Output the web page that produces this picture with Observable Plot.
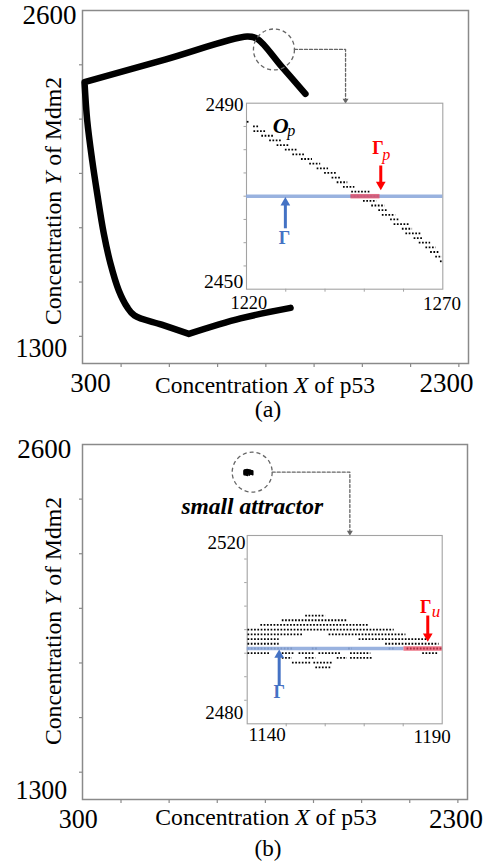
<!DOCTYPE html>
<html>
<head>
<meta charset="utf-8">
<script src="https://cdn.jsdelivr.net/npm/d3@7"></script>
<script src="https://cdn.jsdelivr.net/npm/@observablehq/plot@0.6"></script>
<style>
  body { margin: 0; background: #fff; }
  #root { position: relative; width: 484px; height: 862px; overflow: hidden; background: #fff;
          font-family: "Liberation Serif", "Times New Roman", Times, serif; color: #000; }
  .lbl { position: absolute; white-space: nowrap; line-height: 1; }
</style>
</head>
<body>
<div id="root"></div>
<script>
// ---------------- DATA ----------------
// main panels
const mainXDomain = [300, 2300];
const mainYDomain = [1300, 2600];
const mainXTicks = [500, 750, 1000, 1250, 1500, 1750, 2000, 2250];
const mainYTicks = [1400, 1600, 1800, 2000, 2200, 2400];

// (a) limit cycle trajectory (p53 X, Mdm2 Y); corner points listed twice
const cycleX = [1378, 1119, 851, 851, 710, 569.4, 531.6, 488, 445, 410.4, 376.2, 350.3, 324.4, 310.4, 310.4, 732, 1153, 1205, 1330, 1455];
const cycleY = [1505, 1466, 1409, 1409, 1443, 1476.8, 1507.4, 1568.9, 1667.8, 1778.3, 1925.6, 2048, 2195, 2336, 2336, 2420, 2504, 2496, 2395, 2293];

// (a) zoom marker + connector (main-panel data units)
const zoomA = [{x: 1292, y: 2456.5}];
const connAX = [1398, 1663, 1663];
const connAY = [2456.5, 2456.5, 2269];

// (a) inset: O_p dotted band (one dotted row per Mdm2 level)
const insetAXDomain = [1220, 1270];
const insetAYDomain = [2450, 2490];
const insetAXTicks = [1230, 1240, 1250, 1260];
const insetAYTicks = [2455, 2460, 2465, 2470, 2475, 2480, 2485];
const opRowY  = [2486, 2485, 2484, 2483, 2482, 2481, 2480, 2479, 2478, 2477, 2476, 2475, 2474, 2473, 2472, 2471, 2470, 2469, 2468, 2467, 2466, 2465, 2464, 2463, 2462, 2461, 2460, 2459, 2458, 2457, 2456];
const opRowX1 = [1220.2, 1221.8, 1221.9, 1223.9, 1225.9, 1227.8, 1229.9, 1231.8, 1234.0, 1236.1, 1238.0, 1239.9, 1241.8, 1243.1, 1244.7, 1246.8, 1246.6, 1249.8, 1251.9, 1253.7, 1254.6, 1256.7, 1257.6, 1259.7, 1260.6, 1262.7, 1264.0, 1265.7, 1266.9, 1268.2, 1269.4];
const opRowX2 = [1221.0, 1223.1, 1225.0, 1227.1, 1229.0, 1231.0, 1233.1, 1235.0, 1236.8, 1238.9, 1240.9, 1242.9, 1244.3, 1245.8, 1247.6, 1251.5, 1254.0, 1253.2, 1255.3, 1256.0, 1258.0, 1258.8, 1261.4, 1262.3, 1264.4, 1265.2, 1266.9, 1268.3, 1269.0, 1269.9, 1270.0];
const gammaA = {y: 2470, x1: 1220, x2: 1270};
const gammaPA = {x1: 1246.6, x2: 1254.0};

// (b) small attractor (dotted rows, shared by main blob and inset)
const attrRowY  = [2503, 2502, 2501, 2500, 2499, 2499, 2498, 2498, 2497, 2497, 2496, 2496, 2496, 2496, 2496, 2495, 2495, 2495, 2495, 2495, 2495, 2494, 2494, 2494, 2494, 2493, 2493, 2492];
const attrRowX1 = [1155.0, 1149.0, 1143.5, 1140.2, 1140.2, 1161.0, 1140.2, 1168.7, 1140.2, 1175.5, 1140.2, 1156.7, 1166.0, 1176.4, 1181.0, 1140.2, 1149.0, 1153.3, 1158.4, 1166.5, 1185.0, 1149.0, 1155.0, 1163.1, 1166.5, 1151.6, 1157.1, 1157.6];
const attrRowX2 = [1160.1, 1165.7, 1171.3, 1177.7, 1154.2, 1180.7, 1148.2, 1186.2, 1148.2, 1189.2, 1152.0, 1158.0, 1167.0, 1178.0, 1190.0, 1146.0, 1152.0, 1157.2, 1164.0, 1171.7, 1189.2, 1151.6, 1157.6, 1165.7, 1172.1, 1156.3, 1161.8, 1161.8];
const zoomB = [{x: 1181.6, y: 2498.6}];
const connBX = [1285.5, 1688.9, 1688.9];
const connBY = [2498.6, 2498.6, 2278];
const attractorLabel = [{x: 1181.6, y: 2373, t: "small attractor"}];
const insetBXDomain = [1140, 1190];
const insetBYDomain = [2480, 2520];
const insetBXTicks = [1150, 1160, 1170, 1180];
const insetBYTicks = [2485, 2490, 2495, 2500, 2505, 2510, 2515];
const gammaB = {y: 2496, x1: 1140, x2: 1180.2};
const gammaUB = {x1: 1180.2, x2: 1190};

// ---------------- HELPERS ----------------
const serif = '"Liberation Serif", "Times New Roman", Times, serif';
const root = document.getElementById("root");
const frameGray = "#8a8a8a";
const blue = "#4472c4", red = "#ff0000";

const rows = (ys, x1s, x2s) => ys.map((y, i) => ({y, x1: x1s[i], x2: x2s[i]}));
const fmt = d => String(d);

function place(svg, left, top) {
  svg.style.position = "absolute";
  svg.style.left = left + "px";
  svg.style.top = top + "px";
  root.appendChild(svg);
}
// stretch texts horizontally to the widths they have in the reference
function fitTexts(svg, targets) {
  svg.querySelectorAll("text").forEach(t => {
    const key = t.textContent;
    if (!(key in targets)) return;
    const w = t.getBBox().width;
    if (!w) return;
    const s = targets[key] / w;
    if (Math.abs(s - 1) < 0.03) return;
    const tr = t.getAttribute("transform");
    if (tr) t.setAttribute("transform", tr + ` scale(${s},1)`);
    else {
      const x = +t.getAttribute("x") || 0;
      t.setAttribute("transform", `translate(${x},0) scale(${s},1) translate(${-x},0)`);
    }
  });
}
function label(html, cx, cy, size, rotate, targetW) {
  const d = document.createElement("div");
  d.className = "lbl";
  d.innerHTML = html;
  d.style.fontSize = size + "px";
  d.style.left = cx + "px";
  d.style.top = cy + "px";
  root.appendChild(d);
  const w = d.offsetWidth;
  const s = targetW && w ? targetW / w : 1;
  d.style.transform = `translate(-50%, -50%) rotate(${rotate}deg) scaleX(${s})`;
}
function arrowMarks(x, yTail, yHead, color, rot) {
  return [
    Plot.link([{x, y1: yTail, y2: yHead}], {x1: "x", x2: "x", y1: "y1", y2: "y2", stroke: color, strokeWidth: 3}),
    Plot.dot([{x, y: yHead}], {x: "x", y: "y", symbol: "triangle", r: 3.6, fill: color, rotate: rot})
  ];
}
function textMark(x, y, t, size, color, weight, style) {
  return Plot.text([{x, y, t}], {x: "x", y: "y", text: "t", fontSize: size, fill: color,
    fontWeight: weight, fontStyle: style, fontFamily: serif});
}
function mainAxes(cfg) {
  return [
    Plot.frame({stroke: frameGray, strokeWidth: 1.5}),
    Plot.axisX({ticks: mainXTicks, tickSize: 4, tickFormat: () => "", stroke: frameGray, strokeWidth: 1.2, label: null}),
    Plot.axisY({ticks: mainYTicks, tickSize: 3, tickFormat: () => "", stroke: frameGray, strokeWidth: 1.2, label: null}),
    Plot.axisX({ticks: [mainXDomain[0]], tickSize: 0, tickPadding: cfg.xPad, dx: cfg.dx300, fontSize: 27, tickFormat: fmt, label: null, fill: "black"}),
    Plot.axisX({ticks: [mainXDomain[1]], tickSize: 0, tickPadding: cfg.xPad, dx: cfg.dx2300, fontSize: 27, tickFormat: fmt, label: null, fill: "black"}),
    Plot.axisY({ticks: [mainYDomain[1]], tickSize: 0, tickPadding: cfg.pad2600, dy: cfg.dy2600, fontSize: 27, tickFormat: fmt, label: null, fill: "black"}),
    Plot.axisY({ticks: [mainYDomain[0]], tickSize: 0, tickPadding: cfg.pad1300, dy: cfg.dy1300, fontSize: 27, tickFormat: fmt, label: null, fill: "black"})
  ];
}
function insetAxes(xt, yt, xd, yd, cfg) {
  return [
    Plot.frame({fill: "white", stroke: "#a3a3a3", strokeWidth: 1.1}),
    Plot.axisX({ticks: xt, tickSize: 3, tickFormat: () => "", stroke: "#a3a3a3", label: null}),
    Plot.axisY({ticks: yt, tickSize: 2.5, tickFormat: () => "", stroke: "#a3a3a3", label: null}),
    Plot.axisX({ticks: [xd[0]], tickSize: 0, tickPadding: cfg.padXL, dx: cfg.dxL, fontSize: 19, tickFormat: fmt, label: null, fill: "black"}),
    Plot.axisX({ticks: [xd[1]], tickSize: 0, tickPadding: cfg.padXR, dx: cfg.dxR, fontSize: 19, tickFormat: fmt, label: null, fill: "black"}),
    Plot.axisY({ticks: [yd[1]], tickSize: 0, tickPadding: cfg.padYT, dy: cfg.dyT, fontSize: 19, tickFormat: fmt, label: null, fill: "black"}),
    Plot.axisY({ticks: [yd[0]], tickSize: 0, tickPadding: cfg.padYB, dy: cfg.dyB, fontSize: 19, tickFormat: fmt, label: null, fill: "black"})
  ];
}
const dotted = {stroke: "black", strokeWidth: 1.8, strokeDasharray: "1.7 1.6"};

// ---------------- PANEL (a) ----------------
const cycle = cycleX.map((x, i) => ({x, y: cycleY[i]}));
const plotA = Plot.plot({
  width: 484, height: 430,
  marginLeft: 82, marginRight: 16, marginTop: 10, marginBottom: 67,
  x: {domain: mainXDomain, axis: null},
  y: {domain: mainYDomain, axis: null},
  style: {fontFamily: serif, background: "transparent", overflow: "visible"},
  marks: [
    ...mainAxes({xPad: 9.5, dx300: 8, dx2300: -22, pad2600: 6, dy2600: 5.3, pad1300: 15.3, dy1300: -15.5}),
    Plot.line(cycle, {x: "x", y: "y", stroke: "black", strokeWidth: 6.5, strokeLinejoin: "round", curve: "catmull-rom"}),
    Plot.dot(zoomA, {x: "x", y: "y", r: 20.5, stroke: "#666", strokeWidth: 1.3, strokeDasharray: "4 3", fill: "none"}),
    Plot.line(connAX.map((x, i) => ({x, y: connAY[i]})), {x: "x", y: "y", stroke: "#666", strokeWidth: 1.3, strokeDasharray: "3 2"}),
    Plot.dot([{x: connAX[2], y: connAY[2]}], {x: "x", y: "y", symbol: "triangle", r: 2.2, fill: "#666", rotate: 180})
  ]
});
place(plotA, 0, 0);
fitTexts(plotA, {"2600": 54.3, "1300": 51.7, "300": 40, "2300": 55});

const insetA = Plot.plot({
  width: 290, height: 230,
  marginLeft: 56, marginRight: 37.7, marginTop: 12.7, marginBottom: 31.3,
  x: {domain: insetAXDomain, axis: null},
  y: {domain: insetAYDomain, axis: null},
  style: {fontFamily: serif, background: "transparent", overflow: "visible"},
  marks: [
    ...insetAxes(insetAXTicks, insetAYTicks, insetAXDomain, insetAYDomain,
      {padXL: 6, dxL: 2.3, padXR: 7.7, dxR: -0.7, padYT: 3, dyT: 1.5, padYB: 3.3, dyB: -7.3}),
    Plot.ruleY(rows(opRowY, opRowX1, opRowX2), {y: "y", x1: "x1", x2: "x2", ...dotted}),
    Plot.ruleY([gammaA], {y: "y", x1: "x1", x2: "x2", stroke: "#8eaadb", strokeWidth: 3.5, strokeOpacity: 0.9}),
    Plot.ruleY([gammaPA], {y: () => gammaA.y, x1: "x1", x2: "x2", stroke: "#e8425c", strokeWidth: 4.5, strokeOpacity: 0.72}),
    ...arrowMarks(1229.9, 2463.1, 2468.6, blue, 0),
    ...arrowMarks(1254.2, 2476.6, 2472.5, red, 180),
    textMark(1228.7, 2485.2, "O", 22, "black", "bold", "italic"),
    textMark(1231.4, 2484.1, "p", 16, "black", "normal", "italic"),
    textMark(1253.5, 2480.3, "Γ", 18, red, "bold", "normal"),
    textMark(1255.6, 2478.9, "p", 16, red, "normal", "italic"),
    textMark(1229.7, 2461.0, "Γ", 18, blue, "bold", "normal")
  ]
});
place(insetA, 190, 90);
fitTexts(insetA, {"2490": 38.3, "2450": 39.3, "1220": 36.7, "1270": 37.3});

// ---------------- PANEL (b) ----------------
const attrRows = rows(attrRowY, attrRowX1, attrRowX2);
const plotB = Plot.plot({
  width: 484, height: 432,
  marginLeft: 82, marginRight: 17, marginTop: 14, marginBottom: 63,
  x: {domain: mainXDomain, axis: null},
  y: {domain: mainYDomain, axis: null},
  style: {fontFamily: serif, background: "transparent", overflow: "visible"},
  marks: [
    ...mainAxes({xPad: 9.1, dx300: -4.2, dx2300: -11.5, pad2600: 11.3, dy2600: 4.7, pad1300: 15.3, dy1300: -9}),
    Plot.ruleY(attrRows, {y: "y", x1: "x1", x2: "x2", stroke: "black", strokeWidth: 4.6}),
    Plot.dot(zoomB, {x: "x", y: "y", r: 20, stroke: "#666", strokeWidth: 1.3, strokeDasharray: "4 3", fill: "none"}),
    Plot.line(connBX.map((x, i) => ({x, y: connBY[i]})), {x: "x", y: "y", stroke: "#666", strokeWidth: 1.3, strokeDasharray: "3 2"}),
    Plot.dot([{x: connBX[2], y: connBY[2]}], {x: "x", y: "y", symbol: "triangle", r: 2.2, fill: "#666", rotate: 180}),
    Plot.text(attractorLabel, {x: "x", y: "y", text: "t", fontSize: 23.5, fontWeight: "bold", fontStyle: "italic", fontFamily: serif, fill: "black"})
  ]
});
place(plotB, 0, 430);
fitTexts(plotB, {"2600": 54, "1300": 51.7, "300": 39, "2300": 55, "small attractor": 143});

const insetB = Plot.plot({
  width: 290, height: 240,
  marginLeft: 56.7, marginRight: 38.3, marginTop: 15, marginBottom: 36.7,
  x: {domain: insetBXDomain, axis: null},
  y: {domain: insetBYDomain, axis: null},
  style: {fontFamily: serif, background: "transparent", overflow: "visible"},
  marks: [
    ...insetAxes(insetBXTicks, insetBYTicks, insetBXDomain, insetBYDomain,
      {padXL: 3.4, dxL: 20, padXR: 6, dxR: -10, padYT: 1.7, dyT: 7.5, padYB: 4, dyB: -10.8}),
    Plot.ruleY(attrRows, {y: "y", x1: "x1", x2: "x2", ...dotted}),
    Plot.ruleY([gammaB], {y: "y", x1: "x1", x2: "x2", stroke: "#8eaadb", strokeWidth: 3.5, strokeOpacity: 0.9}),
    Plot.ruleY([gammaUB], {y: () => gammaB.y, x1: "x1", x2: "x2", stroke: "#e8425c", strokeWidth: 4.5, strokeOpacity: 0.72}),
    ...arrowMarks(1148.2, 2488.1, 2494.6, blue, 0),
    ...arrowMarks(1186.3, 2503.0, 2498.6, red, 180),
    textMark(1185.8, 2504.7, "Γ", 18, red, "bold", "normal"),
    textMark(1188.4, 2503.8, "u", 17, red, "normal", "italic"),
    textMark(1148.2, 2486.8, "Γ", 18, blue, "bold", "normal")
  ]
});
place(insetB, 190, 520);
fitTexts(insetB, {"2520": 38.3, "2480": 38.7, "1140": 36.7, "1190": 36.7});

// ---------------- TITLES / CAPTIONS ----------------
label("Concentration <i>X</i> of p53", 265, 385.6, 23.5, 0, 220);
label("Concentration <i>Y</i> of Mdm2", 54.1, 201, 23.5, -90, 248);
label("(a)", 268, 409.5, 22.5, 0, 26.7);
label("Concentration <i>X</i> of p53", 266, 817.6, 23.5, 0, 221.5);
label("Concentration <i>Y</i> of Mdm2", 53.6, 621, 23.5, -90, 248);
label("(b)", 268, 848.5, 22.5, 0, 26.7);
</script>
</body>
</html>
